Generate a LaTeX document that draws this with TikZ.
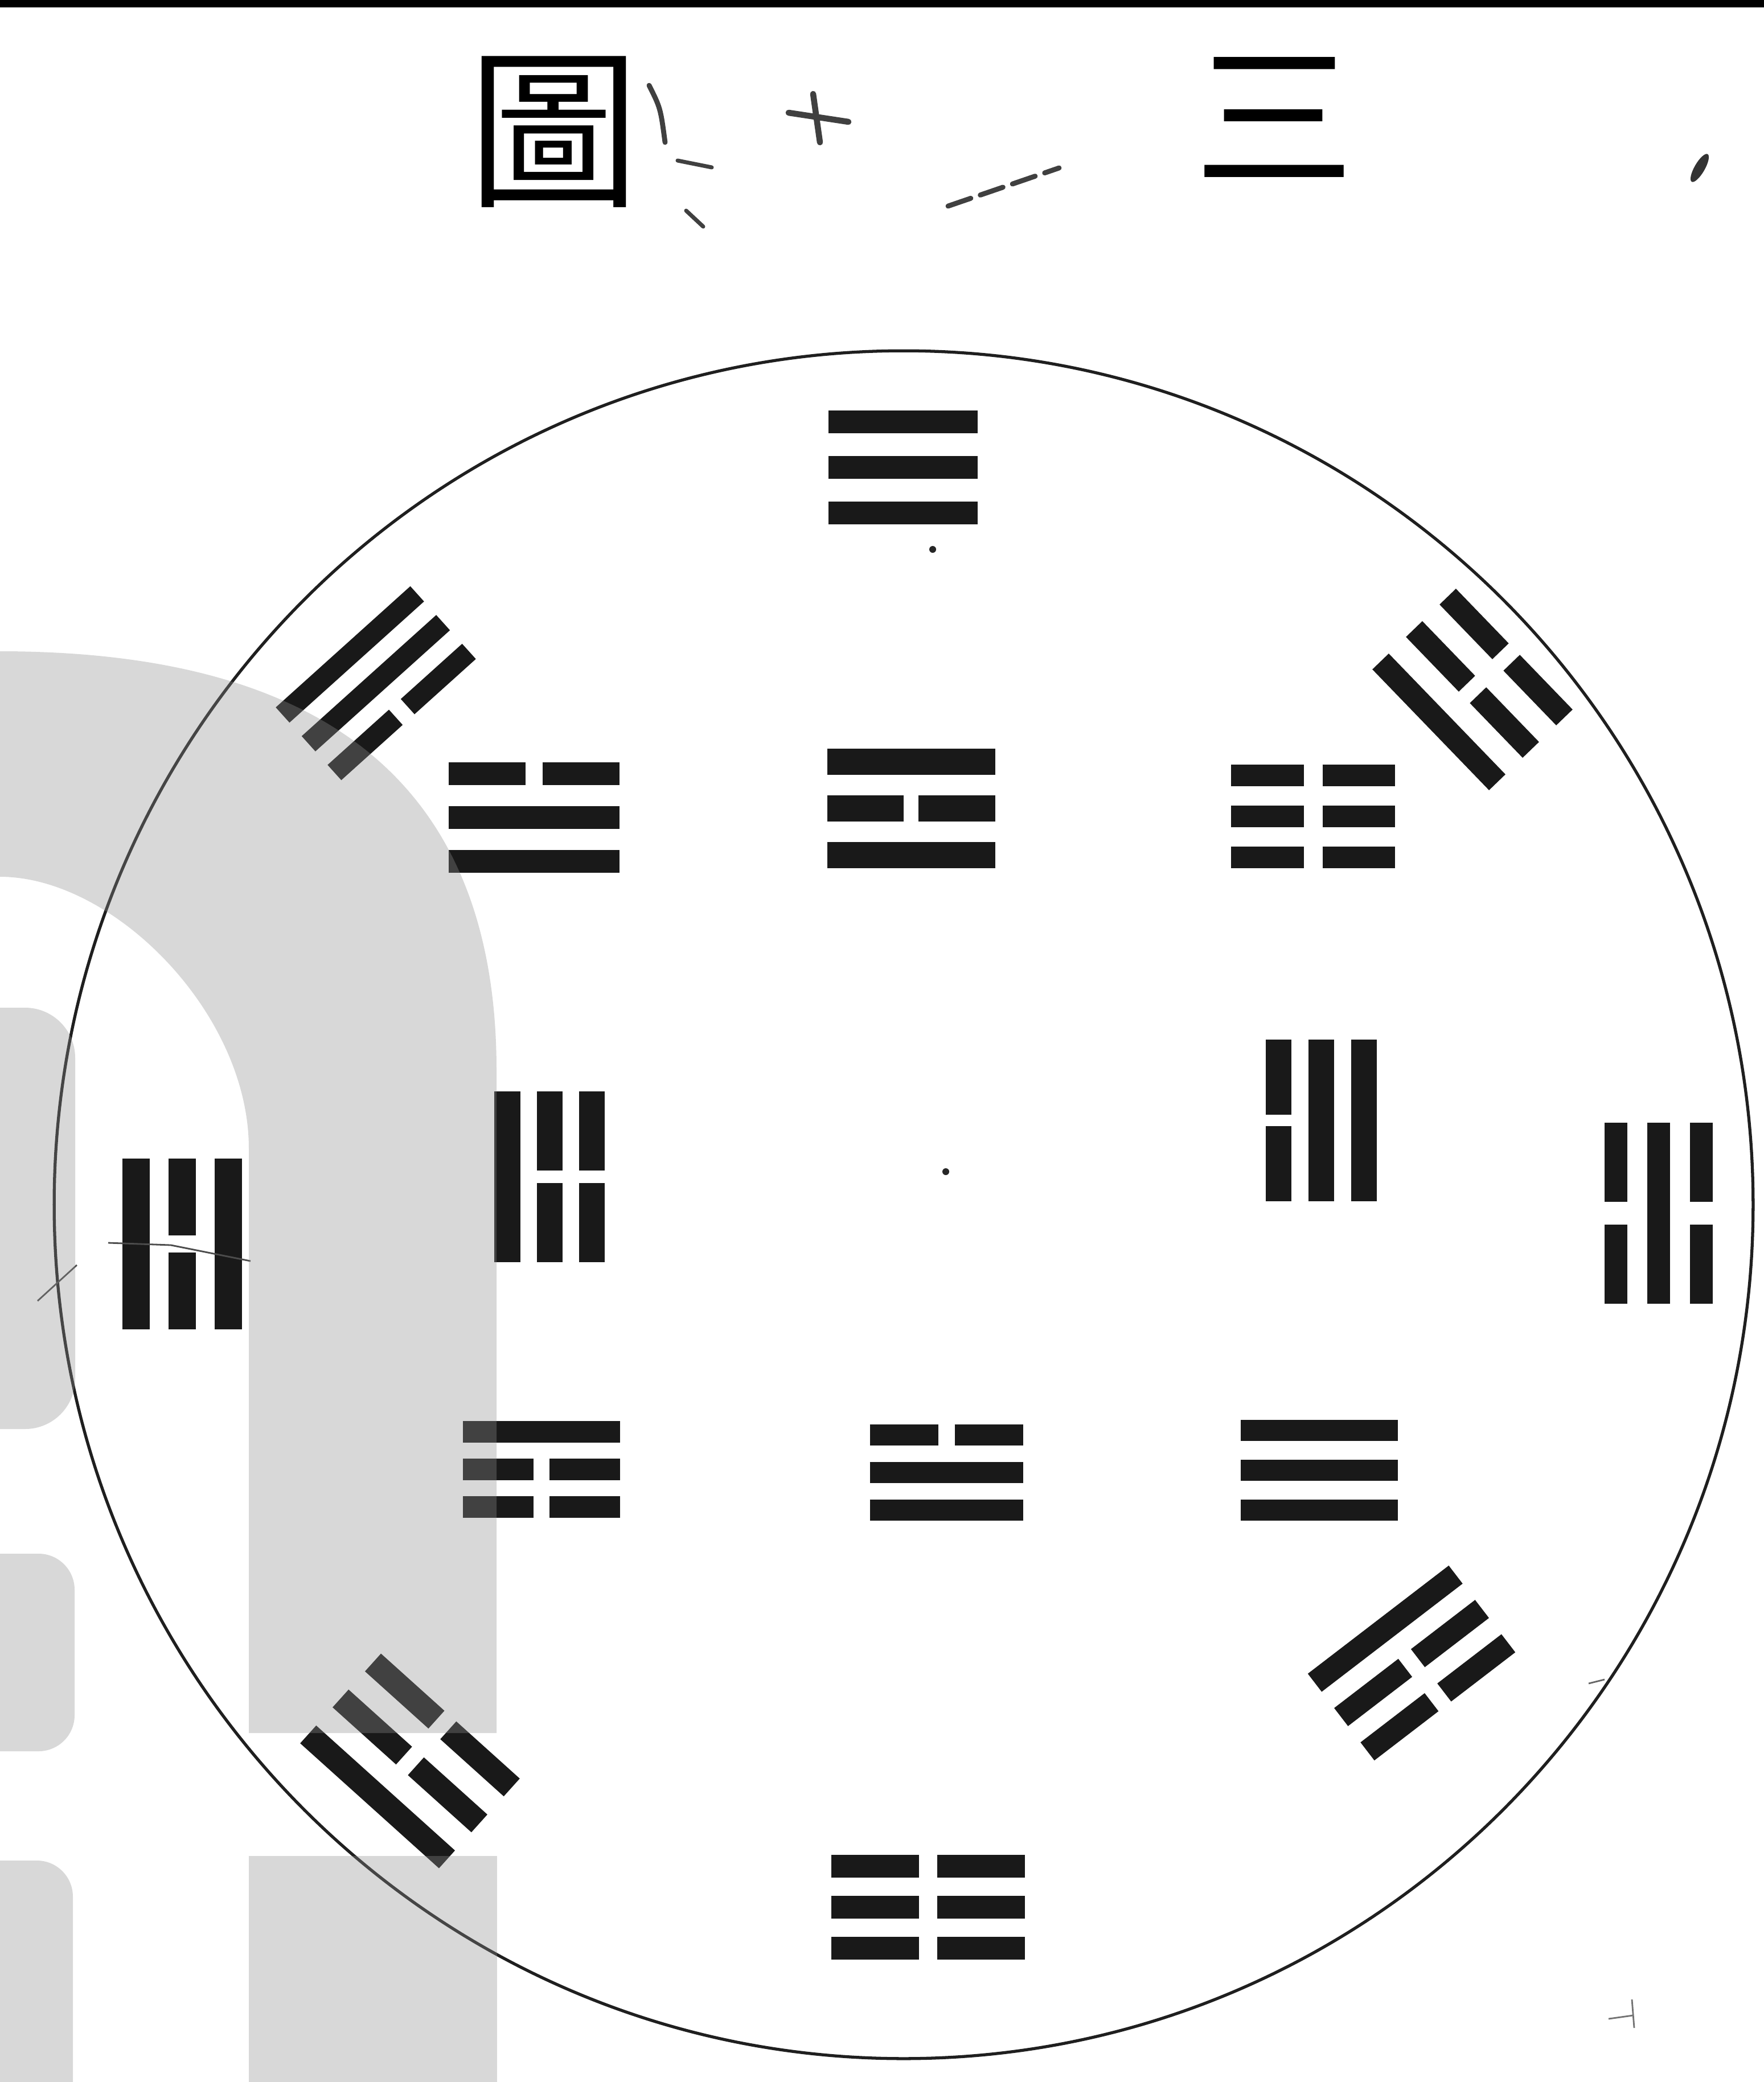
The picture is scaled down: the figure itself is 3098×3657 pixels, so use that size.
\documentclass[tikz,border=0pt]{standalone}
\usepackage{fontspec}
\newfontfamily\cjk{Noto Sans CJK TC}
\tikzset{
  bar/.style={draw=black!90, line cap=butt},
  wm/.style={fill=black!44, fill opacity=0.34},
  smudge/.style={draw=black!75, line cap=round},
}
% #1 cx, #2 cy, #3 rotation, #4 length, #5 pitch, #6 lines (1 solid, 0 broken), #7 thickness, #8 gap
\newcommand{\drawtri}[8]{%
  \begin{scope}[shift={(#1,#2)},rotate=#3]
  \foreach \s [count=\i] in {#6}{%
    \pgfmathsetmacro{\yy}{(\i-2)*#5}%
    \ifnum\s=1
      \draw[bar, line width=#7*0.2845pt] (-#4/2,\yy) -- (#4/2,\yy);
    \else
      \draw[bar, line width=#7*0.2845pt] (-#4/2,\yy) -- (-#8/2,\yy) (#8/2,\yy) -- (#4/2,\yy);
    \fi}
  \end{scope}}
\begin{document}
\begin{tikzpicture}[x=0.01cm,y=-0.01cm]
\useasboundingbox (0,0) rectangle (3098,3657);
\fill[white] (0,0) rectangle (3098,3657);
\fill[black] (0,0) rectangle (3098,13);

% title
\node[font=\cjk\fontsize{86pt}{86pt}\selectfont, inner sep=0] (tu) at (973,232) {圖};
\node[font=\cjk\fontsize{80pt}{80pt}\selectfont, inner sep=0] (san) at (2238,206) {三};
% faded smudges between the title characters
\draw[smudge, line width=2.5pt] (1140,150) .. controls (1160,190) .. (1168,250);
\draw[smudge, line width=2pt] (1190,282) -- (1250,294);
\draw[smudge, line width=2pt] (1205,370) -- (1235,398);
\draw[smudge, line width=3pt] (1385,198) -- (1490,214);
\draw[smudge, line width=3pt] (1428,165) -- (1440,250);
\draw[smudge, line width=2.5pt, dash pattern=on 12pt off 5pt] (1665,362) -- (1860,295);

% circle
\draw[black!88, line width=1.5pt] (1587,2116) ellipse [x radius=14.91cm, y radius=14.99cm];

% outer ring
\drawtri{1586}{821}{0}{262}{80}{1,1,1}{40}{0}
\drawtri{2586}{1211}{-46}{295}{82}{0,0,1}{40}{28}
\drawtri{2913}{2131}{90}{318}{75}{0,1,0}{40}{40}
\drawtri{2479}{2921}{37.5}{312}{76}{1,0,0}{40}{28}
\drawtri{1630}{3350}{0}{340}{72}{0,0,0}{40}{32}
\drawtri{720}{3093}{-42}{328}{85}{0,0,1}{42}{28}
\drawtri{320}{2185}{90}{300}{81}{1,0,1}{48}{30}
\drawtri{660}{1200}{42}{318}{68}{1,1,0}{36}{28}

% inner ring
\drawtri{938}{1436}{0}{300}{77}{0,1,1}{40}{30}
\drawtri{1600}{1420}{0}{295}{82}{1,0,1}{46}{26}
\drawtri{2306}{1434}{0}{288}{72}{0,0,0}{38}{33}
\drawtri{965}{2067}{90}{300}{74}{1,0,0}{45}{22}
\drawtri{2320}{1968}{90}{284}{75}{0,1,1}{45}{20}
\drawtri{951}{2581}{0}{276}{66}{1,0,0}{38}{28}
\drawtri{1662}{2586}{0}{269}{66}{0,1,1}{37}{29}
\drawtri{2317}{2582}{0}{276}{70}{1,1,1}{37}{0}

% small marks
\fill[black!85] (1638,965) circle [radius=0.06cm];
\fill[black!85] (1661,2058) circle [radius=0.06cm];
\fill[black!80, rotate around={60:(2985,295)}] (2985,295) ellipse [x radius=0.28cm, y radius=0.09cm];
\draw[black!70, line width=0.8pt] (190,2183) -- (300,2187) -- (440,2215);
\draw[black!70, line width=0.8pt] (66,2285) -- (135,2222);
\draw[black!60, line width=0.8pt] (2790,2957) -- (2818,2950);
\draw[black!55, line width=0.8pt] (2825,3546) -- (2868,3540) (2866,3512) -- (2870,3562);

% grey watermark overlay
\fill[wm] (0,1144) .. controls (620,1144) and (872,1420) .. (872,1880) -- (872,3044) -- (437,3044) -- (437,2017) .. controls (437,1780) and (200,1540) .. (0,1540) -- cycle;
\fill[wm, rounded corners=25pt] (-100,1770) rectangle (132,2510);
\fill[wm, rounded corners=18pt] (-100,2729) rectangle (131,3076);
\fill[wm, rounded corners=18pt] (-100,3268) rectangle (128,3800);
\fill[wm] (437,3260) rectangle (873,3700);
\end{tikzpicture}
\end{document}
